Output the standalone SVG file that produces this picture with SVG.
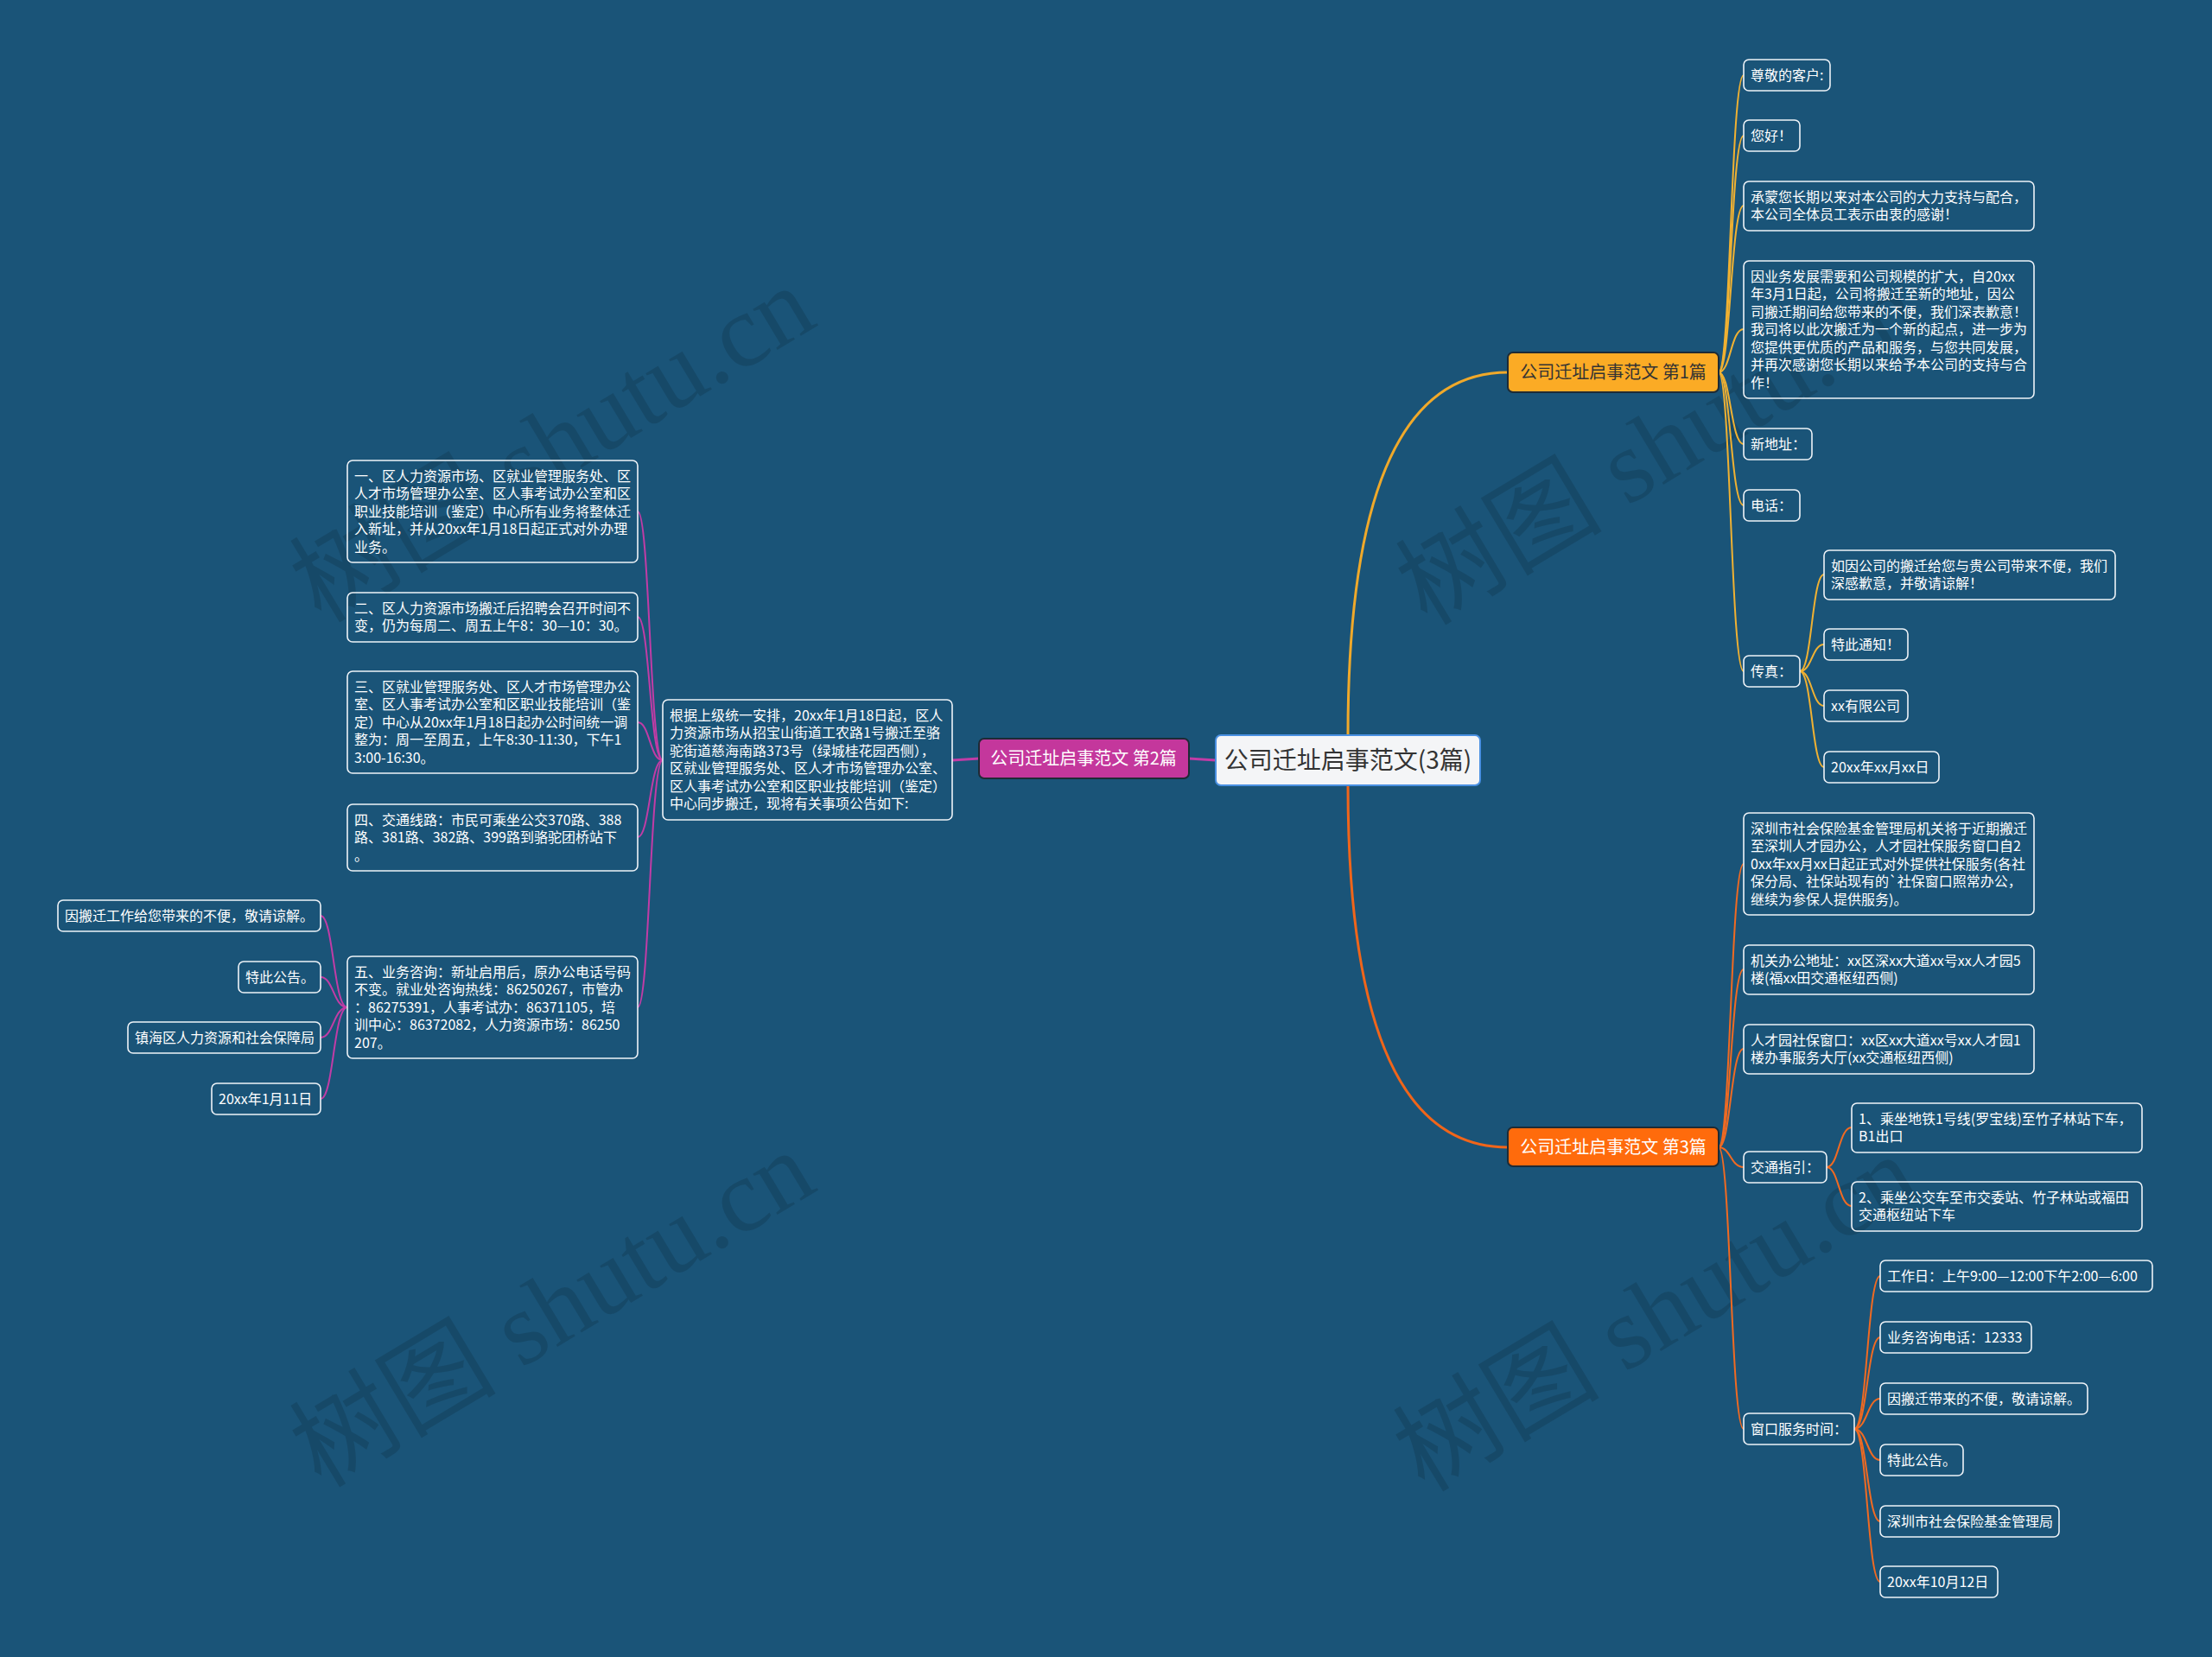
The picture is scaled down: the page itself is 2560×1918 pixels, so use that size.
<svg xmlns="http://www.w3.org/2000/svg" width="2560" height="1918" viewBox="0 0 2560 1918">
<style>
.box{fill:none;stroke:#eef3f8;stroke-width:1.6}
.t{font-family:"Noto Sans CJK SC","Microsoft YaHei",sans-serif;font-size:16px;fill:#ffffff}
.c1{fill:none;stroke:#f0b132;stroke-width:2}
.c3{fill:none;stroke:#f06a22;stroke-width:2}
.c2{fill:none;stroke:#c13ca6;stroke-width:2}
.wm{font-family:"Liberation Serif","Noto Sans CJK SC",serif;font-size:120px;fill:#000000;fill-opacity:0.13}
.bt{font-family:"Noto Sans CJK SC","Microsoft YaHei",sans-serif;font-size:20px;text-anchor:middle}
</style>
<rect x="0" y="0" width="2560" height="1918" fill="#1a5478"/>
<g id="watermarks">
<text class="wm" x="660" y="549" text-anchor="middle" transform="rotate(-31 660 549)">树图 shutu.cn</text>
<text class="wm" x="1940" y="552" text-anchor="middle" transform="rotate(-31 1940 552)">树图 shutu.cn</text>
<text class="wm" x="660" y="1550" text-anchor="middle" transform="rotate(-31 660 1550)">树图 shutu.cn</text>
<text class="wm" x="1937" y="1555" text-anchor="middle" transform="rotate(-31 1937 1555)">树图 shutu.cn</text>
</g>
<g id="connectors">
<path d="M1560,851 Q1560,431 1745,431" fill="none" stroke="#f0a92a" stroke-width="3"/>
<path d="M1560,909 Q1560,1328 1745,1328" fill="none" stroke="#f0651a" stroke-width="3"/>
<path d="M1407,880 L1376,878" fill="none" stroke="#c13ca6" stroke-width="3"/>
<path d="M1133,878 L1102,880" fill="none" stroke="#c13ca6" stroke-width="3"/>
<path class="c1" d="M1989,431 C2003,431 2003,87 2018,87"/>
<path class="c1" d="M1989,431 C2003,431 2003,157 2018,157"/>
<path class="c1" d="M1989,431 C2003,431 2003,238 2018,238"/>
<path class="c1" d="M1989,431 C2003,431 2003,381 2018,381"/>
<path class="c1" d="M1989,431 C2003,431 2003,514 2018,514"/>
<path class="c1" d="M1989,431 C2003,431 2003,585 2018,585"/>
<path class="c1" d="M1989,431 C2003,431 2003,777 2018,777"/>
<path class="c1" d="M2083,777 C2097,777 2097,665 2111,665"/>
<path class="c1" d="M2083,777 C2097,777 2097,746 2111,746"/>
<path class="c1" d="M2083,777 C2097,777 2097,817 2111,817"/>
<path class="c1" d="M2083,777 C2097,777 2097,888 2111,888"/>
<path class="c3" d="M1989,1328 C2003,1328 2003,1000 2018,1000"/>
<path class="c3" d="M1989,1328 C2003,1328 2003,1122 2018,1122"/>
<path class="c3" d="M1989,1328 C2003,1328 2003,1214 2018,1214"/>
<path class="c3" d="M1989,1328 C2003,1328 2003,1351 2018,1351"/>
<path class="c3" d="M1989,1328 C2003,1328 2003,1654 2018,1654"/>
<path class="c3" d="M2114,1351 C2128,1351 2128,1305 2143,1305"/>
<path class="c3" d="M2114,1351 C2128,1351 2128,1396 2143,1396"/>
<path class="c3" d="M2146,1654 C2161,1654 2161,1477 2176,1477"/>
<path class="c3" d="M2146,1654 C2161,1654 2161,1548 2176,1548"/>
<path class="c3" d="M2146,1654 C2161,1654 2161,1619 2176,1619"/>
<path class="c3" d="M2146,1654 C2161,1654 2161,1690 2176,1690"/>
<path class="c3" d="M2146,1654 C2161,1654 2161,1761 2176,1761"/>
<path class="c3" d="M2146,1654 C2161,1654 2161,1831 2176,1831"/>
<path class="c2" d="M767,880 C752,880 752,592 738,592"/>
<path class="c2" d="M767,880 C752,880 752,714 738,714"/>
<path class="c2" d="M767,880 C752,880 752,836 738,836"/>
<path class="c2" d="M767,880 C752,880 752,969 738,969"/>
<path class="c2" d="M767,880 C752,880 752,1166 738,1166"/>
<path class="c2" d="M402,1166 C386,1166 386,1060 371,1060"/>
<path class="c2" d="M402,1166 C386,1166 386,1131 371,1131"/>
<path class="c2" d="M402,1166 C386,1166 386,1201 371,1201"/>
<path class="c2" d="M402,1166 C386,1166 386,1272 371,1272"/>
</g>
<g id="root">
<rect x="1407" y="851" width="306" height="58" rx="6" fill="#f4f5f7" stroke="#4a90e2" stroke-width="2"/>
<text x="1560" y="890" text-anchor="middle" font-family="Noto Sans CJK SC, sans-serif" font-size="28" fill="#333333">公司迁址启事范文(3篇)</text>
</g>
<g id="branch1">
<rect x="1745" y="408" width="244" height="46" rx="6" fill="#fbab25" stroke="#1e2b35" stroke-width="2"/>
<text class="bt" x="1867" y="438" fill="#333333">公司迁址启事范文 第1篇</text>
</g>
<g id="branch2">
<rect x="1133" y="855" width="243" height="46" rx="6" fill="#c4379c" stroke="#1e2b35" stroke-width="2"/>
<text class="bt" x="1254" y="885" fill="#ffffff">公司迁址启事范文 第2篇</text>
</g>
<g id="branch3">
<rect x="1745" y="1305" width="244" height="45" rx="6" fill="#ff6b0c" stroke="#1e2b35" stroke-width="2"/>
<text class="bt" x="1867" y="1335" fill="#ffffff">公司迁址启事范文 第3篇</text>
</g>
<g id="n1"><rect class="box" x="2018" y="69" width="100" height="36" rx="6"/><text class="t" x="2026" y="92.5">尊敬的客户:</text></g>
<g id="n2"><rect class="box" x="2018" y="139" width="65" height="36" rx="6"/><text class="t" x="2026" y="162.5">您好！</text></g>
<g id="n3"><rect class="box" x="2018" y="210" width="336" height="57" rx="6"/><text class="t" x="2026" y="233.5"><tspan x="2026">承蒙您长期以来对本公司的大力支持与配合，</tspan><tspan x="2026" dy="20.5">本公司全体员工表示由衷的感谢！</tspan></text></g>
<g id="n4"><rect class="box" x="2018" y="302" width="336" height="159" rx="6"/><text class="t" x="2026" y="325.5"><tspan x="2026">因业务发展需要和公司规模的扩大，自20xx</tspan><tspan x="2026" dy="20.5">年3月1日起，公司将搬迁至新的地址，因公</tspan><tspan x="2026" dy="20.5">司搬迁期间给您带来的不便，我们深表歉意！</tspan><tspan x="2026" dy="20.5">我司将以此次搬迁为一个新的起点，进一步为</tspan><tspan x="2026" dy="20.5">您提供更优质的产品和服务，与您共同发展，</tspan><tspan x="2026" dy="20.5">并再次感谢您长期以来给予本公司的支持与合</tspan><tspan x="2026" dy="20.5">作！</tspan></text></g>
<g id="n5"><rect class="box" x="2018" y="496" width="79" height="36" rx="6"/><text class="t" x="2026" y="519.5">新地址：</text></g>
<g id="n6"><rect class="box" x="2018" y="567" width="65" height="36" rx="6"/><text class="t" x="2026" y="590.5">电话：</text></g>
<g id="n7"><rect class="box" x="2018" y="759" width="65" height="36" rx="6"/><text class="t" x="2026" y="782.5">传真：</text></g>
<g id="n7a"><rect class="box" x="2111" y="637" width="337" height="57" rx="6"/><text class="t" x="2119" y="660.5"><tspan x="2119">如因公司的搬迁给您与贵公司带来不便，我们</tspan><tspan x="2119" dy="20.5">深感歉意，并敬请谅解！</tspan></text></g>
<g id="n7b"><rect class="box" x="2111" y="728" width="97" height="36" rx="6"/><text class="t" x="2119" y="751.5">特此通知！</text></g>
<g id="n7c"><rect class="box" x="2111" y="799" width="97" height="36" rx="6"/><text class="t" x="2119" y="822.5">xx有限公司</text></g>
<g id="n7d"><rect class="box" x="2111" y="870" width="133" height="36" rx="6"/><text class="t" x="2119" y="893.5">20xx年xx月xx日</text></g>
<g id="m1"><rect class="box" x="2018" y="941" width="336" height="118" rx="6"/><text class="t" x="2026" y="964.5"><tspan x="2026">深圳市社会保险基金管理局机关将于近期搬迁</tspan><tspan x="2026" dy="20.5">至深圳人才园办公，人才园社保服务窗口自2</tspan><tspan x="2026" dy="20.5">0xx年xx月xx日起正式对外提供社保服务(各社</tspan><tspan x="2026" dy="20.5">保分局、社保站现有的`社保窗口照常办公，</tspan><tspan x="2026" dy="20.5">继续为参保人提供服务)。</tspan></text></g>
<g id="m2"><rect class="box" x="2018" y="1094" width="336" height="57" rx="6"/><text class="t" x="2026" y="1117.5"><tspan x="2026">机关办公地址：xx区深xx大道xx号xx人才园5</tspan><tspan x="2026" dy="20.5">楼(福xx田交通枢纽西侧)</tspan></text></g>
<g id="m3"><rect class="box" x="2018" y="1186" width="336" height="57" rx="6"/><text class="t" x="2026" y="1209.5"><tspan x="2026">人才园社保窗口：xx区xx大道xx号xx人才园1</tspan><tspan x="2026" dy="20.5">楼办事服务大厅(xx交通枢纽西侧)</tspan></text></g>
<g id="m4"><rect class="box" x="2018" y="1333" width="96" height="36" rx="6"/><text class="t" x="2026" y="1356.5">交通指引：</text></g>
<g id="m4a"><rect class="box" x="2143" y="1277" width="336" height="57" rx="6"/><text class="t" x="2151" y="1300.5"><tspan x="2151">1、乘坐地铁1号线(罗宝线)至竹子林站下车，</tspan><tspan x="2151" dy="20.5">B1出口</tspan></text></g>
<g id="m4b"><rect class="box" x="2143" y="1368" width="336" height="57" rx="6"/><text class="t" x="2151" y="1391.5"><tspan x="2151">2、乘坐公交车至市交委站、竹子林站或福田</tspan><tspan x="2151" dy="20.5">交通枢纽站下车</tspan></text></g>
<g id="m5"><rect class="box" x="2018" y="1636" width="128" height="36" rx="6"/><text class="t" x="2026" y="1659.5">窗口服务时间：</text></g>
<g id="m5a"><rect class="box" x="2176" y="1459" width="315" height="36" rx="6"/><text class="t" x="2184" y="1482.5">工作日：上午9:00—12:00下午2:00—6:00</text></g>
<g id="m5b"><rect class="box" x="2176" y="1530" width="175" height="36" rx="6"/><text class="t" x="2184" y="1553.5">业务咨询电话：12333</text></g>
<g id="m5c"><rect class="box" x="2176" y="1601" width="240" height="36" rx="6"/><text class="t" x="2184" y="1624.5">因搬迁带来的不便，敬请谅解。</text></g>
<g id="m5d"><rect class="box" x="2176" y="1672" width="96" height="36" rx="6"/><text class="t" x="2184" y="1695.5">特此公告。</text></g>
<g id="m5e"><rect class="box" x="2176" y="1743" width="207" height="36" rx="6"/><text class="t" x="2184" y="1766.5">深圳市社会保险基金管理局</text></g>
<g id="m5f"><rect class="box" x="2176" y="1813" width="136" height="36" rx="6"/><text class="t" x="2184" y="1836.5">20xx年10月12日</text></g>
<g id="k0"><rect class="box" x="767" y="810" width="335" height="139" rx="6"/><text class="t" x="775" y="833.5"><tspan x="775">根据上级统一安排，20xx年1月18日起，区人</tspan><tspan x="775" dy="20.5">力资源市场从招宝山街道工农路1号搬迁至骆</tspan><tspan x="775" dy="20.5">驼街道慈海南路373号（绿城桂花园西侧），</tspan><tspan x="775" dy="20.5">区就业管理服务处、区人才市场管理办公室、</tspan><tspan x="775" dy="20.5">区人事考试办公室和区职业技能培训（鉴定）</tspan><tspan x="775" dy="20.5">中心同步搬迁，现将有关事项公告如下:</tspan></text></g>
<g id="k1"><rect class="box" x="402" y="533" width="336" height="118" rx="6"/><text class="t" x="410" y="556.5"><tspan x="410">一、区人力资源市场、区就业管理服务处、区</tspan><tspan x="410" dy="20.5">人才市场管理办公室、区人事考试办公室和区</tspan><tspan x="410" dy="20.5">职业技能培训（鉴定）中心所有业务将整体迁</tspan><tspan x="410" dy="20.5">入新址，并从20xx年1月18日起正式对外办理</tspan><tspan x="410" dy="20.5">业务。</tspan></text></g>
<g id="k2"><rect class="box" x="402" y="686" width="336" height="57" rx="6"/><text class="t" x="410" y="709.5"><tspan x="410">二、区人力资源市场搬迁后招聘会召开时间不</tspan><tspan x="410" dy="20.5">变，仍为每周二、周五上午8：30—10：30。</tspan></text></g>
<g id="k3"><rect class="box" x="402" y="777" width="336" height="118" rx="6"/><text class="t" x="410" y="800.5"><tspan x="410">三、区就业管理服务处、区人才市场管理办公</tspan><tspan x="410" dy="20.5">室、区人事考试办公室和区职业技能培训（鉴</tspan><tspan x="410" dy="20.5">定）中心从20xx年1月18日起办公时间统一调</tspan><tspan x="410" dy="20.5">整为：周一至周五，上午8:30-11:30，下午1</tspan><tspan x="410" dy="20.5">3:00-16:30。</tspan></text></g>
<g id="k4"><rect class="box" x="402" y="931" width="336" height="77" rx="6"/><text class="t" x="410" y="954.5"><tspan x="410">四、交通线路：市民可乘坐公交370路、388</tspan><tspan x="410" dy="20.5">路、381路、382路、399路到骆驼团桥站下</tspan><tspan x="410" dy="20.5">。</tspan></text></g>
<g id="k5"><rect class="box" x="402" y="1107" width="336" height="118" rx="6"/><text class="t" x="410" y="1130.5"><tspan x="410">五、业务咨询：新址启用后，原办公电话号码</tspan><tspan x="410" dy="20.5">不变。就业处咨询热线：86250267，市管办</tspan><tspan x="410" dy="20.5">：86275391，人事考试办：86371105，培</tspan><tspan x="410" dy="20.5">训中心：86372082，人力资源市场：86250</tspan><tspan x="410" dy="20.5">207。</tspan></text></g>
<g id="k5a"><rect class="box" x="67" y="1042" width="304" height="36" rx="6"/><text class="t" x="75" y="1065.5">因搬迁工作给您带来的不便，敬请谅解。</text></g>
<g id="k5b"><rect class="box" x="276" y="1113" width="95" height="36" rx="6"/><text class="t" x="284" y="1136.5">特此公告。</text></g>
<g id="k5c"><rect class="box" x="148" y="1183" width="223" height="36" rx="6"/><text class="t" x="156" y="1206.5">镇海区人力资源和社会保障局</text></g>
<g id="k5d"><rect class="box" x="245" y="1254" width="126" height="36" rx="6"/><text class="t" x="253" y="1277.5">20xx年1月11日</text></g>
</svg>
